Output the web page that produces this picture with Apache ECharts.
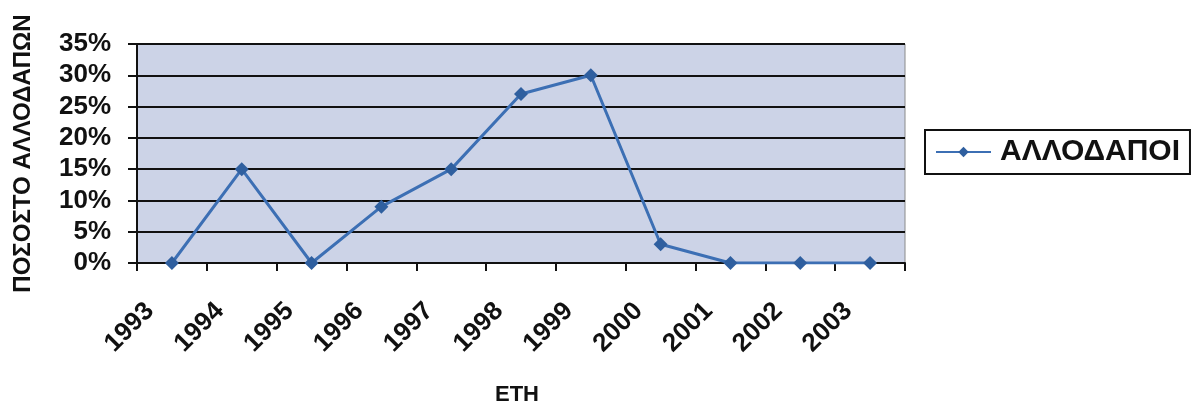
<!DOCTYPE html>
<html>
<head>
<meta charset="utf-8">
<script src="https://cdn.jsdelivr.net/npm/echarts@6/dist/echarts.min.js"></script>
<style>
html,body{margin:0;padding:0;background:#fff;}
#c{width:1195px;height:406px;}
</style>
</head>
<body>
<div id="c"></div>
<script>
const years = ['1993','1994','1995','1996','1997','1998','1999','2000','2001','2002','2003'];
const allodapoi = [0, 0.15, 0, 0.09, 0.15, 0.27, 0.30, 0.03, 0, 0, 0];
const seriesName = 'ΑΛΛΟΔΑΠΟΙ';
const yAxisTitle = 'ΠΟΣΟΣΤΟ ΑΛΛΟΔΑΠΩΝ';
const xAxisTitle = 'ΕΤΗ';

const font = '"Liberation Sans", Arial, sans-serif';
const chart = echarts.init(document.getElementById('c'), null, {renderer: 'canvas'});
chart.setOption({
  animation: false,
  backgroundColor: '#ffffff',
  textStyle: {fontFamily: font},
  grid: {
    left: 137, right: 290, top: 44, bottom: 143,
    containLabel: false,
    outerBoundsMode: 'none',
    show: true, backgroundColor: '#ccd3e7', borderColor: '#8a8a8a', borderWidth: 1
  },
  legend: {
    orient: 'vertical',
    left: 925, top: 130,
    padding: [7, 10, 7, 10],
    borderColor: '#111', borderWidth: 2,
    itemWidth: 55, itemHeight: 13,
    textStyle: {fontSize: 30, fontWeight: 'bold', color: '#111', fontFamily: font, padding: [0, 0, 0, 4]},
    data: [seriesName]
  },
  xAxis: {
    type: 'category',
    data: years,
    boundaryGap: true,
    name: xAxisTitle,
    nameLocation: 'middle',
    nameGap: 121,
    nameTextStyle: {fontSize: 22, fontWeight: 'bold', color: '#111', padding: [0, 8, 0, 0]},
    axisLine: {lineStyle: {color: '#111', width: 2}},
    axisTick: {show: true, interval: 0, length: 8, lineStyle: {color: '#111', width: 2}},
    axisLabel: {interval: 0, rotate: 45, margin: 22, padding: [0, 31, 0, 0], fontSize: 26, fontWeight: 'bold', color: '#111'},
    splitLine: {show: false}
  },
  yAxis: {
    type: 'value',
    min: 0, max: 0.35, interval: 0.05,
    name: yAxisTitle,
    nameLocation: 'middle',
    nameGap: 102,
    nameRotate: 90,
    nameTextStyle: {fontSize: 24, fontWeight: 'bold', color: '#111'},
    axisLine: {show: true, lineStyle: {color: '#111', width: 2}},
    axisTick: {show: true, length: 9, lineStyle: {color: '#111', width: 2}},
    axisLabel: {margin: 26, fontSize: 26, fontWeight: 'bold', color: '#111',
      formatter: v => Math.round(v * 100) + '%'},
    splitLine: {show: true, lineStyle: {color: '#111', width: 2}}
  },
  series: [{
    name: seriesName,
    type: 'line',
    data: allodapoi,
    symbol: 'diamond',
    symbolSize: 14,
    lineStyle: {color: '#3c6fb4', width: 3},
    itemStyle: {color: '#2f5f9f'}
  }]
});
</script>
</body>
</html>
